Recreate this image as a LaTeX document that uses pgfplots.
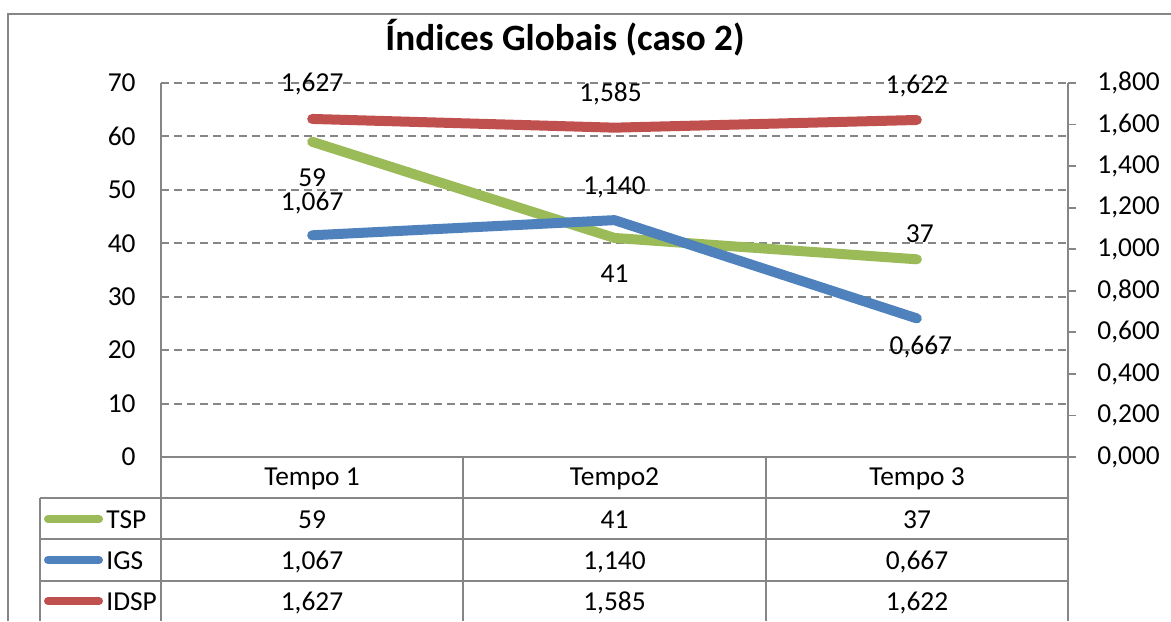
\documentclass[border=0pt]{standalone}
\usepackage{fontspec}
\setmainfont{Carlito}
\usepackage{pgfplots}
\pgfplotsset{compat=1.18}
\definecolor{tspc}{RGB}{155,187,89}
\definecolor{igsc}{RGB}{79,129,189}
\definecolor{idspc}{RGB}{192,80,77}
\definecolor{lg}{RGB}{134,134,134}
\newcommand{\fs}{\fontsize{13.7}{16.4}\selectfont}
\begin{document}
\begin{tikzpicture}
\useasboundingbox (0,0) rectangle (585.5pt,310.5pt);

\begin{axis}[at={(80.5pt,82pt)}, anchor=south west, scale only axis,
  width=453.5pt, height=187pt,
  xmin=0.5, xmax=3.5, ymin=0, ymax=70, xtick=\empty, ytick={0,10,...,70},
  axis x line*=bottom, axis y line*=left,
  axis line style={lg, line width=0.9pt},
  ymajorgrids, major grid style={lg, line width=0.95pt, dash pattern=on 4pt off 2.5pt},
  major tick length=0pt,
  yticklabel style={font=\fs, anchor=east, inner sep=0pt, xshift=-12.5pt},
  /pgf/number format/assume math mode=true,
  clip=false]
\addplot[tspc, line width=5pt, line cap=round, line join=round] coordinates {(1,59) (2,41) (3,37)};
\node[anchor=base, inner sep=0pt, font=\fs, yshift=-22.5pt] at (axis cs:1,59) {59};
\node[anchor=base, inner sep=0pt, font=\fs, yshift=-22.25pt] at (axis cs:2,41) {41};
\node[anchor=base, inner sep=0pt, font=\fs, yshift=8.5pt, xshift=1.5pt] at (axis cs:3,37) {37};
\end{axis}

\begin{axis}[at={(80.5pt,82pt)}, anchor=south west, scale only axis,
  width=453.5pt, height=187pt,
  xmin=0.5, xmax=3.5, ymin=0, ymax=1.8, xtick=\empty,
  ytick={0,0.2,0.4,0.6,0.8,1.0,1.2,1.4,1.6,1.8},
  axis x line=none, axis y line*=right,
  axis line style={lg, line width=0.9pt},
  tick align=outside, major tick length=4pt, tick style={lg, line width=0.9pt},
  yticklabel style={font=\fs, anchor=west, inner sep=0pt, xshift=10.5pt,
    /pgf/number format/.cd, fixed, fixed zerofill, precision=3, use comma},
  /pgf/number format/assume math mode=true,
  clip=false]
\addplot[igsc, line width=5pt, line cap=round, line join=round] coordinates {(1,1.067) (2,1.140) (3,0.667)};
\addplot[idspc, line width=5pt, line cap=round, line join=round] coordinates {(1,1.627) (2,1.585) (3,1.622)};
\node[anchor=base, inner sep=0pt, font=\fs, yshift=12.5pt] at (axis cs:1,1.067) {1,067};
\node[anchor=base, inner sep=0pt, font=\fs, yshift=13pt] at (axis cs:2,1.140) {1,140};
\node[anchor=base, inner sep=0pt, font=\fs, yshift=-18pt, xshift=2pt] at (axis cs:3,0.667) {0,667};
\node[anchor=base, inner sep=0pt, font=\fs, yshift=13.5pt] at (axis cs:1,1.627) {1,627};
\node[anchor=base, inner sep=0pt, font=\fs, yshift=13.3pt, xshift=-2pt] at (axis cs:2,1.585) {1,585};
\node[anchor=base, inner sep=0pt, font=\fs, yshift=13pt] at (axis cs:3,1.622) {1,622};
\end{axis}

\begin{scope}[x=0.5pt, y=-0.5pt, shift={(0pt,310.5pt)}]
\draw[lg, line width=0.9pt] (8,621) -- (8,14) -- (1171,14);
\node[anchor=base, inner sep=0pt, font=\fontsize{18.6}{22}\selectfont\bfseries] at (565,51) {Índices Globais (caso 2)};
\draw[lg, line width=0.85pt]
  (161,457) -- (161,621) (463,457) -- (463,621) (766,457) -- (766,621) (1068,457) -- (1068,621)
  (40,498) -- (40,621)
  (40,498) -- (1068,498) (40,539) -- (1068,539) (40,581) -- (1068,581);
\foreach \x/\t in {312/Tempo 1, 614.5/Tempo2, 917/Tempo 3}
  \node[anchor=base, inner sep=0pt, font=\fs] at (\x,486) {\t};
\foreach \x/\a/\b/\c in {312/59/{1,067}/{1,627}, 614.5/41/{1,140}/{1,585}, 917/37/{0,667}/{1,622}} {
  \node[anchor=base, inner sep=0pt, font=\fs] at (\x,528) {\a};
  \node[anchor=base, inner sep=0pt, font=\fs] at (\x,569) {\b};
  \node[anchor=base, inner sep=0pt, font=\fs] at (\x,610) {\c};
}
\draw[tspc, line width=4pt, line cap=round] (48,519) -- (99,519);
\draw[igsc, line width=4pt, line cap=round] (48,560) -- (99,560);
\draw[idspc, line width=4pt, line cap=round] (48,601) -- (99,601);
\node[anchor=base west, inner sep=0pt, font=\fs] at (106,528) {TSP};
\node[anchor=base west, inner sep=0pt, font=\fs] at (106,569) {IGS};
\node[anchor=base west, inner sep=0pt, font=\fs] at (106,610) {IDSP};
\end{scope}
\end{tikzpicture}
\end{document}
